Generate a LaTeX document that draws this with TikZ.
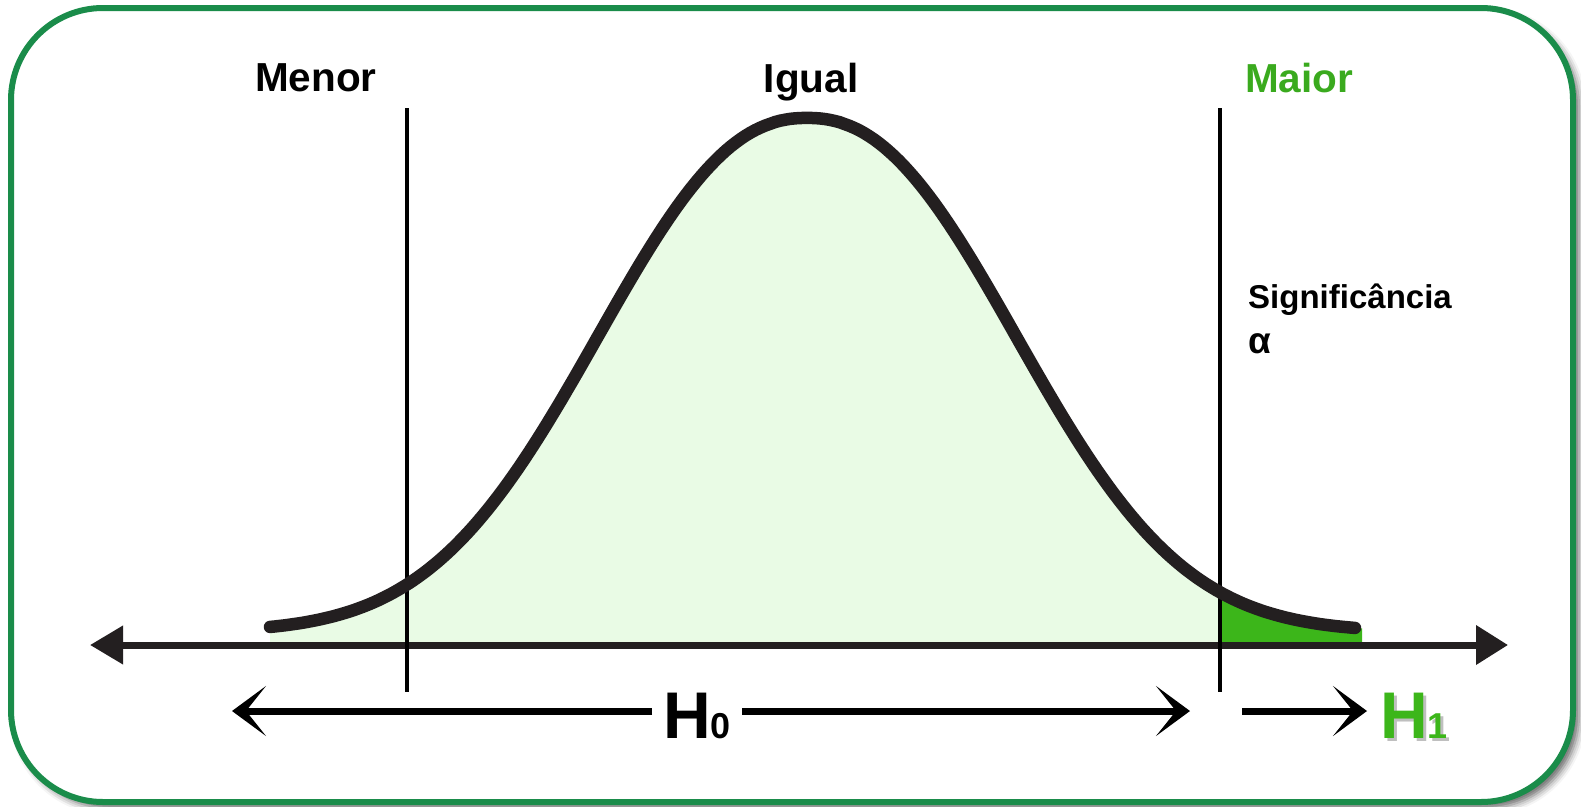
\documentclass[tikz,border=0pt]{standalone}
\usepackage{fontspec}
\setmainfont{Liberation Sans}
\usetikzlibrary{arrows.meta,shadows.blur}
\definecolor{framegreen}{RGB}{26,140,74}
\definecolor{lightfill}{RGB}{233,251,229}
\definecolor{tailgreen}{RGB}{60,182,26}
\definecolor{labgreen}{RGB}{58,170,30}
\definecolor{ink}{RGB}{35,31,32}
\tikzset{
  lab/.style={inner sep=0pt, font=\fontsize{40.5}{48}\selectfont\bfseries},
  siglab/.style={inner sep=0pt, font=\fontsize{33}{38}\selectfont\bfseries},
  hlab/.style={inner ysep=0pt, font=\fontsize{66}{70}\selectfont\bfseries},
  axisline/.style={ink, line width=7pt, {Triangle[length=33pt,width=37pt]}-{Triangle[length=32pt,width=38pt]}},
  harrow/.style={black, line width=7pt, -{Stealth[length=34pt,width=50pt,inset=20pt]}},
  divider/.style={black, line width=3.5pt},
  bellcurve/.style={ink, line width=12.5pt, line cap=round},
  declare function={bell(\x)=632-514*exp(-1*exp(2.25*ln((abs(\x-807)+0.01)/272)));}
}
\begin{document}
\begin{tikzpicture}[x=1pt,y=-1pt]
\useasboundingbox (0,0) rectangle (1581,806);
% frame
\draw[framegreen, line width=6pt, rounded corners=92pt, fill=white,
  blur shadow={shadow xshift=6pt, shadow yshift=-6pt, shadow blur radius=7pt, shadow opacity=60}]
  (11,8) rectangle (1573,802);
% fills
\fill[lightfill] (270,645) -- plot[domain=270:1220, samples=140] (\x,{bell(\x)}) -- (1220,645) -- cycle;
\fill[tailgreen] (1220,645) -- plot[domain=1220:1362, samples=30] (\x,{bell(\x)}) -- (1362,645) -- cycle;
% coordinates
\coordinate (axl) at (90,645);
\coordinate (axr) at (1508,645);
\coordinate (v1t) at (407,108);
\coordinate (v1b) at (407,692);
\coordinate (v2t) at (1220,108);
\coordinate (v2b) at (1220,692);
\coordinate (h0l) at (232,711);
\coordinate (h0r) at (1190,711);
\coordinate (h1s) at (1242,711);
% axis
\draw[axisline] (axl) -- (axr);
% dividers
\draw[divider] (v1t) -- (v1b);
\draw[divider] (v2t) -- (v2b);
% curve
\draw[bellcurve] plot[domain=270:1355, samples=220] (\x,{bell(\x)});
% labels
\node[lab, anchor=base] (menor) at (316,91) {Menor};
\node[lab, anchor=base] (igual) at (811,92) {Igual};
\node[lab, anchor=base west, text=labgreen] (maior) at (1245,92) {Maior};
\node[siglab, anchor=base west] (sig) at (1248,308) {Significância};
\node[siglab, anchor=base west, font=\fontsize{37}{40}\selectfont\bfseries] (alpha) at (1248,353) {α};
% H0
\node[hlab, anchor=base west, inner xsep=11pt] (h0) at (652,738) {H{\fontsize{36}{36}\selectfont 0}};
\draw[harrow] (h0l -| h0.west) -- (h0l);
\draw[harrow] (h0r -| h0.east) -- (h0r);
% H1
\node[hlab, anchor=base west, inner xsep=13pt, text=black, opacity=0.25] at (1370,741) {H{\fontsize{36}{36}\selectfont 1}};
\node[hlab, anchor=base west, inner xsep=13pt, text=tailgreen] (h1) at (1367,738) {H{\fontsize{36}{36}\selectfont 1}};
\draw[harrow] (h1s) -- (h1s -| h1.west);
\end{tikzpicture}
\end{document}
